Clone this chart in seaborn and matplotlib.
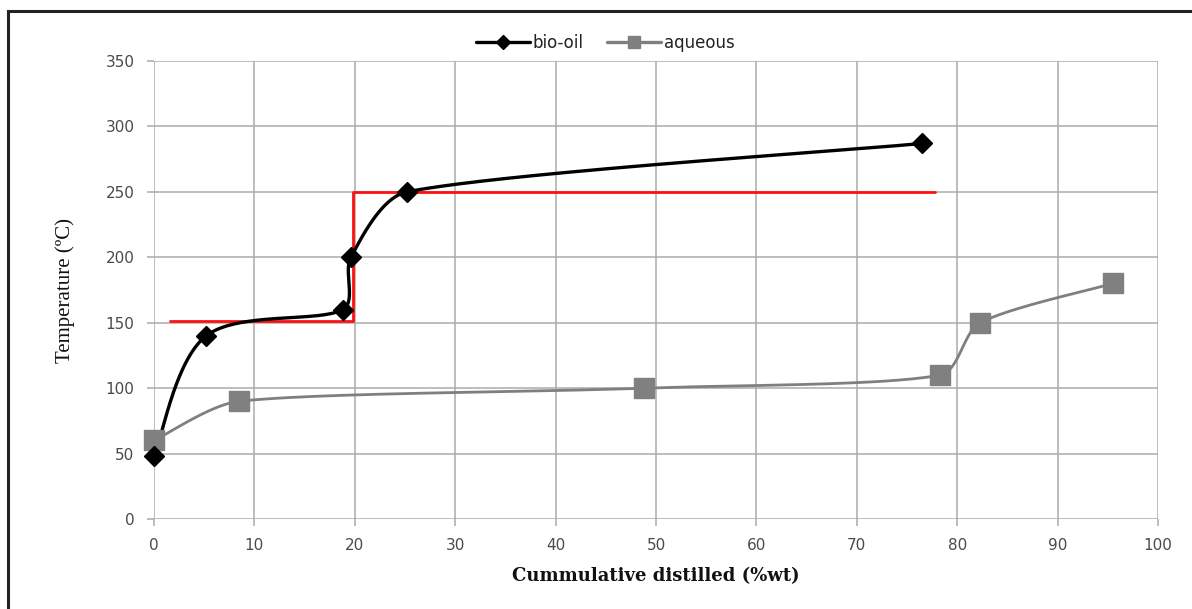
import numpy as np
import pandas as pd
import matplotlib
matplotlib.use("Agg")
import matplotlib.pyplot as plt
from matplotlib.lines import Line2D
from matplotlib.patches import Rectangle
import seaborn as sns

# ---- data ----
bio_x = [0.0, 5.2, 18.8, 19.6, 25.2, 76.5]
bio_y = [48, 140, 160, 200, 250, 287]
aq_x = [0.0, 8.5, 48.8, 78.3, 82.3, 95.5]
aq_y = [60, 90, 100, 110, 150, 180]
red_x = [1.6, 19.8, 19.8, 77.8]
red_y = [151, 151, 250, 250]
x_ticks = [0, 10, 20, 30, 40, 50, 60, 70, 80, 90, 100]
y_ticks = [0, 50, 100, 150, 200, 250, 300, 350]

# pixel scale of the axes (used only to make the smoothing look isotropic)
SX, SY = 10.04, 1.309


def smooth(xs, ys, n=60, kmax=0.3):
    """Excel-like smoothed line: Catmull-Rom Bezier handles, clamped to a
    fraction of the segment length to avoid overshoot."""
    P = np.column_stack([np.asarray(xs) * SX, np.asarray(ys) * SY]).astype(float)
    m = len(P)
    H = np.zeros_like(P)
    for i in range(m):
        a = P[i - 1] if i > 0 else P[i]
        b = P[i + 1] if i < m - 1 else P[i]
        H[i] = (b - a) / 6.0
    out = []
    for i in range(m - 1):
        p1, p2 = P[i], P[i + 1]
        L = np.hypot(*(p2 - p1))
        h1, h2 = H[i].copy(), H[i + 1].copy()
        for h in (h1, h2):
            ln = np.hypot(*h)
            if ln > L * kmax:
                h *= L * kmax / ln
        c1 = p1 + h1
        c2 = p2 - h2
        t = np.linspace(0, 1, n)[:, None]
        seg = ((1 - t) ** 3) * p1 + 3 * ((1 - t) ** 2) * t * c1 + 3 * (1 - t) * t ** 2 * c2 + t ** 3 * p2
        out.append(seg if i == 0 else seg[1:])
    S = np.vstack(out)
    return S[:, 0] / SX, S[:, 1] / SY


sns.set_theme(style="white")
plt.rcParams["font.family"] = ["DejaVu Sans"]

fig = plt.figure(figsize=(11.92, 6.09), dpi=100)
ax = fig.add_axes([0.1292, 0.1478, 0.8423, 0.752])

gray_grid = "#ababab"
ax.set_xlim(0, 100)
ax.set_ylim(0, 350)
ax.set_xticks(x_ticks)
ax.set_yticks(y_ticks)
ax.grid(True, color=gray_grid, linewidth=1.1)
ax.set_axisbelow(True)
for s in ax.spines.values():
    s.set_visible(False)
ax.tick_params(axis="both", which="both", length=5, width=1.1, color=gray_grid,
               labelsize=11, labelcolor="#4a4a4a", direction="out",
               bottom=True, left=True)
ax.tick_params(axis="x", pad=9)
ax.tick_params(axis="y", pad=9)

bx, by = smooth(bio_x, bio_y)
ax_, ay_ = smooth(aq_x, aq_y)
df_bio = pd.DataFrame({"x": bx, "y": by})
df_aq = pd.DataFrame({"x": ax_, "y": ay_})

sns.lineplot(data=df_aq, x="x", y="y", sort=False, estimator=None, ax=ax,
             color="#7f7f7f", linewidth=2.0, zorder=3)
sns.lineplot(data=pd.DataFrame({"x": red_x, "y": red_y}), x="x", y="y", sort=False,
             estimator=None, ax=ax, color="#ff1010", linewidth=2.0, zorder=4)
sns.lineplot(data=df_bio, x="x", y="y", sort=False, estimator=None, ax=ax,
             color="black", linewidth=2.4, zorder=5)
ax.plot(aq_x, aq_y, linestyle="none", marker="s", markersize=14,
        color="#808080", zorder=6, clip_on=False)
ax.plot(bio_x, bio_y, linestyle="none", marker="D", markersize=10.5,
        color="black", zorder=7, clip_on=False)

ax.set_xlabel("Cummulative distilled (%wt)", family="DejaVu Serif",
              fontweight="bold", fontsize=13, color="#111111", labelpad=10)
ax.set_ylabel("Temperature (ºC)", family="Liberation Serif",
              fontweight="normal", fontsize=15, color="#111111", labelpad=22)

handles = [
    Line2D([], [], color="black", linewidth=2.4, marker="D", markersize=7),
    Line2D([], [], color="#7f7f7f", linewidth=2.4, marker="s", markersize=8),
]
fig.legend(handles, ["bio-oil", "aqueous"], loc="center", bbox_to_anchor=(0.508, 0.929),
           ncol=2, frameon=False, fontsize=12, handlelength=3.2, handletextpad=0.2,
           columnspacing=1.4, labelcolor="#222222")

fig.patches.append(Rectangle((8 / 1192, -0.1), 1.2, 1 - 11 / 609 + 0.1,
                             transform=fig.transFigure, fill=False,
                             edgecolor="#222222", linewidth=2.2, zorder=0))

ax.set_facecolor("white")
fig.savefig("out.png", dpi=100, facecolor="white")
